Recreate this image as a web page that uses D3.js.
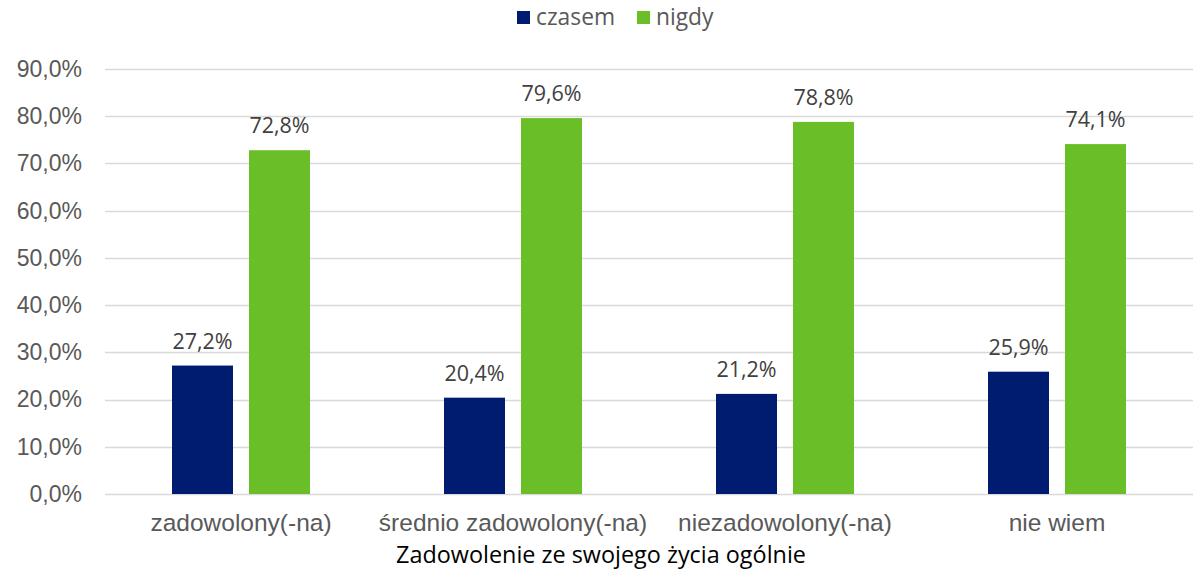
<!DOCTYPE html>
<html><head><meta charset="utf-8">
<script src="https://cdn.jsdelivr.net/npm/d3@7"></script>
<style>body{margin:0;background:#fff}svg{display:block;font-family:"Open Sans",sans-serif}</style>
</head><body><svg id="c" width="1196" height="571"></svg>
<script>
const categories = ["zadowolony(-na)", "średnio zadowolony(-na)", "niezadowolony(-na)", "nie wiem"];
const seriesNames = ["czasem", "nigdy"];
const czasem = [27.2, 20.4, 21.2, 25.9];
const nigdy = [72.8, 79.6, 78.8, 74.1];
const yTicks = [0, 10, 20, 30, 40, 50, 60, 70, 80, 90];
const colors = ["#001c71", "#6abf29"];
const axisTitle = "Zadowolenie ze swojego życia ogólnie";

(function(){
const svg = d3.select("#c");
const mL = 105, mR = 1193, mT = 69, mB = 494;
const fmt = v => v.toFixed(1).replace(".", ",");
const y = d3.scaleLinear().domain([0, 90]).range([mB, mT]);
const x0 = d3.scaleBand().domain(categories).range([mL, mR]);
const x1 = d3.scaleBand().domain(seriesNames).range([0, 138]).paddingInner(16/77);

svg.append("g").selectAll("line").data(yTicks).join("line")
  .attr("x1", mL).attr("x2", mR)
  .attr("y1", d => Math.round(y(d)) + 0.5).attr("y2", d => Math.round(y(d)) + 0.5)
  .attr("stroke", "#d9d9d9").attr("stroke-width", 1.5);

const yAxis = d3.axisLeft(y).tickValues(yTicks).tickFormat(d => fmt(d) + "%").tickSize(0).tickPadding(0);
const ya = svg.append("g").attr("transform", `translate(82,0)`).call(yAxis);
ya.select(".domain").remove();
ya.selectAll("text").attr("font-size", 23).attr("fill", "#595959").attr("font-family", null);

const data = [czasem, nigdy];
const groups = svg.append("g").selectAll("g").data(categories).join("g")
  .attr("transform", d => `translate(${x0(d) + x0.bandwidth()/2 - 69},0)`);
groups.each(function(cat, i) {
  const g = d3.select(this);
  seriesNames.forEach((s, si) => {
    const v = data[si][i];
    g.append("rect").attr("x", x1(s)).attr("width", x1.bandwidth())
      .attr("y", y(v)).attr("height", y(0) - y(v)).attr("fill", colors[si]);
    g.append("text").attr("x", x1(s) + x1.bandwidth()/2).attr("y", y(v) - 17)
      .attr("text-anchor", "middle").attr("font-size", 21.5).attr("fill", "#404040")
      .text(fmt(v) + "%");
  });
});

const xAxis = d3.axisBottom(x0).tickSize(0).tickPadding(0);
const xa = svg.append("g").attr("transform", `translate(0,${mB})`).call(xAxis);
xa.select(".domain").remove();
xa.selectAll("text").attr("font-size", 24.5).attr("fill", "#595959").attr("font-family", null)
  .attr("dy", null).attr("y", 37);

svg.append("text").attr("x", 601).attr("y", 563).attr("text-anchor", "middle")
  .attr("font-size", 23.4).attr("fill", "#000").text(axisTitle);

const legX = [517, 637];
seriesNames.forEach((s, i) => {
  svg.append("rect").attr("x", legX[i]).attr("y", 11).attr("width", 13).attr("height", 13).attr("fill", colors[i]);
  svg.append("text").attr("x", legX[i] + 19).attr("y", 25).attr("font-size", 22.8).attr("fill", "#595959").text(s);
});
})();
</script></body></html>
